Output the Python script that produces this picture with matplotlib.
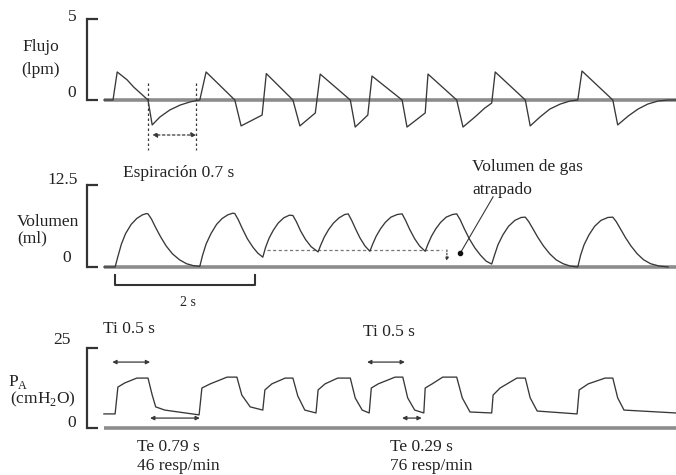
import matplotlib
matplotlib.use("Agg")
import matplotlib.pyplot as plt

plt.rcParams['font.family'] = ['Liberation Serif', 'DejaVu Serif']

# ---------------- data (time in s, values in chart units) ----------------
flow_t = [-0.13, 0.0, 0.06, 0.20, 0.30, 0.50, 0.56, 0.67, 0.81, 0.96, 1.10, 1.20, 1.24,
          1.33, 1.74, 1.83, 2.13, 2.19,
          2.57, 2.67, 2.89, 2.96,
          3.39, 3.46, 3.64, 3.70,
          4.13, 4.20, 4.46, 4.50,
          4.91, 5.00, 5.17, 5.31, 5.41, 5.46,
          5.89, 5.96, 6.10, 6.24, 6.39, 6.53, 6.64, 6.70,
          7.14, 7.21, 7.36, 7.50, 7.64, 7.79, 7.93, 8.04]
flow_v = [0.0, 0.0, 1.73, 1.25, 0.78, 0.0, -1.54, -1.05, -0.62, -0.31, -0.12, -0.03, 0.0,
          1.73, 0.0, -1.60, -0.93, 1.63,
          0.0, -1.60, -0.80, 1.60,
          0.0, -1.67, -0.93, 1.48,
          0.0, -1.67, -0.80, 1.60,
          0.0, -1.67, -1.05, -0.50, -0.19, 1.73,
          0.0, -1.60, -1.05, -0.56, -0.25, -0.06, 0.0, 1.79,
          0.0, -1.54, -0.99, -0.56, -0.25, -0.06, 0.0, 0.0]

vol_t = [-0.13, 0.03, 0.07, 0.12, 0.18, 0.26, 0.34, 0.42, 0.48, 0.50, 0.55, 0.61, 0.68,
         0.76, 0.85, 0.95, 1.05, 1.15, 1.24,
         1.28, 1.33, 1.40, 1.48, 1.56, 1.64, 1.71, 1.74, 1.79, 1.85, 1.92, 2.00, 2.07, 2.14,
         2.18, 2.23, 2.29, 2.36, 2.44, 2.52, 2.57, 2.62, 2.68, 2.75, 2.83, 2.93,
         2.97, 3.02, 3.08, 3.15, 3.23, 3.31, 3.36, 3.41, 3.47, 3.53, 3.60, 3.67,
         3.71, 3.76, 3.82, 3.89, 3.97, 4.06, 4.13, 4.18, 4.24, 4.31, 4.38, 4.46,
         4.50, 4.55, 4.61, 4.68, 4.76, 4.85, 4.91, 4.96, 5.02, 5.09, 5.17, 5.25, 5.33, 5.41,
         5.45, 5.50, 5.57, 5.65, 5.74, 5.83, 5.89, 5.94, 6.00, 6.07, 6.15, 6.24, 6.33,
         6.43, 6.53, 6.64,
         6.68, 6.73, 6.80, 6.88, 6.97, 7.07, 7.14, 7.19, 7.25, 7.32, 7.40, 7.49, 7.58,
         7.68, 7.80, 7.93]
vol_v = [0.0, 0.0, 1.6, 3.5, 5.1, 6.5, 7.4, 7.95, 8.15, 8.1, 7.3, 6.0, 4.6,
         3.2, 2.0, 1.1, 0.5, 0.2, 0.1,
         1.8, 3.5, 5.1, 6.5, 7.4, 7.95, 8.2, 8.15, 7.2, 5.8, 4.3, 3.0, 2.1, 1.5,
         3.0, 4.4, 5.6, 6.7, 7.5, 7.9, 7.85, 6.9, 5.5, 4.2, 3.1, 2.3,
         3.4, 4.6, 5.7, 6.7, 7.5, 8.0, 8.1, 7.1, 5.7, 4.4, 3.2, 2.4,
         3.5, 4.7, 5.8, 6.8, 7.6, 8.0, 8.1, 7.1, 5.7, 4.3, 3.2, 2.4,
         3.5, 4.7, 5.8, 6.8, 7.6, 8.0, 8.1, 7.2, 5.8, 4.3, 2.9, 1.8, 0.9, 0.45,
         1.8, 3.4, 4.9, 6.2, 7.1, 7.55, 7.6, 6.9, 5.8, 4.5, 3.2, 2.0, 1.1,
         0.5, 0.15, 0.0,
         1.8, 3.4, 4.9, 6.2, 7.1, 7.55, 7.6, 6.9, 5.8, 4.5, 3.2, 2.0, 1.1,
         0.5, 0.15, 0.0]

pres_t = [-0.13, 0.03, 0.07, 0.17, 0.34, 0.50, 0.56, 0.61, 0.74, 1.23,
          1.27, 1.39, 1.63, 1.77, 1.84, 1.96, 2.14,
          2.17, 2.27, 2.46, 2.57, 2.64, 2.74, 2.90,
          2.93, 3.03, 3.21, 3.39, 3.46, 3.56, 3.66,
          3.69, 3.79, 4.03, 4.14, 4.21, 4.31, 4.44,
          4.46, 4.56, 4.71, 4.91, 4.99, 5.10, 5.41,
          5.43, 5.53, 5.77, 5.89, 5.96, 6.06, 6.63,
          6.66, 6.79, 7.03, 7.14, 7.21, 7.30, 8.04]
pres_v = [4.4, 4.4, 12.8, 14.1, 15.6, 15.6, 10.3, 6.6, 5.6, 4.1,
          12.5, 13.8, 15.9, 15.9, 10.3, 6.6, 5.6,
          11.9, 13.8, 15.6, 15.6, 10.0, 5.6, 4.7,
          11.9, 13.8, 15.6, 15.6, 9.4, 5.6, 4.7,
          12.5, 13.8, 15.9, 15.9, 9.4, 5.6, 4.7,
          12.5, 13.8, 15.9, 15.9, 9.4, 5.0, 4.7,
          10.3, 12.5, 15.6, 15.6, 9.4, 5.3, 4.4,
          11.9, 13.8, 15.6, 15.6, 9.4, 5.6, 4.7]

panel_max = [5, 12.5, 25]
panel_tick_labels = [["0", "5"], ["0", "12.5"], ["0", "25"]]

# ---------------- layout helpers ----------------
W, H = 676, 475
fig = plt.figure(figsize=(W / 100, H / 100), dpi=100)

X0 = 87        # px of bracket
XT0 = 113      # px where t=0
PXS = 70.0     # px per second
xlim = ((X0 - XT0) / PXS, (W - XT0) / PXS)

boxes = [(19, 100), (185, 267), (348, 428)]  # top, bottom pixel of bracket
TRACE = '#383838'
BASE = '#8c8c8c'
AX = '#333333'
FS = 12.5

axes = []
for (top, bot), ymax in zip(boxes, panel_max):
    ax = fig.add_axes([X0 / W, 1 - bot / H, (W - X0) / W, (bot - top) / H])
    ax.set_xlim(*xlim)
    ax.set_ylim(0, ymax)
    ax.patch.set_alpha(0)
    for s in ['top', 'right', 'bottom']:
        ax.spines[s].set_visible(False)
    ax.spines['left'].set_color(AX)
    ax.spines['left'].set_linewidth(1.6)
    ax.set_xticks([])
    ax.set_yticks([0, ymax])
    ax.tick_params(axis='y', direction='in', length=8, width=1.6, color=AX,
                   labelleft=False)
    ax.plot([-0.13, xlim[1]], [0, 0], color=BASE, lw=2.6, solid_capstyle='butt',
            clip_on=False, zorder=1)
    axes.append(ax)

ax1, ax2, ax3 = axes
ax1.plot(flow_t, flow_v, color=TRACE, lw=0.95, clip_on=False, zorder=3)
ax2.plot(vol_t, vol_v, color=TRACE, lw=0.95, clip_on=False, zorder=3)
ax3.plot(pres_t, pres_v, color=TRACE, lw=0.95, clip_on=False, zorder=3)


def ftext(x, y, s, ha='center', va='center', fs=FS):
    fig.text(x / W, 1 - y / H, s, ha=ha, va=va, fontsize=fs, color='#222222')


# axis labels / tick labels
ftext(72, 17, panel_tick_labels[0][1])
ftext(72, 93, panel_tick_labels[0][0])
ftext(41, 47, "Flujo")
ftext(40, 70, "(lpm)")

ftext(63, 180, panel_tick_labels[1][1])
ftext(67, 258, panel_tick_labels[1][0])
ftext(17, 222, "Volumen", ha='left')
ftext(17, 238, "(ml)", ha='left')

ftext(62, 340, panel_tick_labels[2][1])
ftext(72, 423, panel_tick_labels[2][0])
ftext(8, 382, r"P$_\mathregular{A}$", ha='left')
ftext(10, 399, r"(cmH$_\mathregular{2}$O)", ha='left')

# ---------------- panel 1 annotations ----------------
for tx in [0.50, 1.19]:
    ax1.plot([tx, tx], [1.05, -3.1], color=TRACE, lw=0.9, ls=(0, (2, 2)), clip_on=False)
ax1.annotate('', xy=(0.56, -2.16), xytext=(1.19, -2.16),
             arrowprops=dict(arrowstyle='<|-|>', color=TRACE, lw=0.9, ls=(0, (2, 2)),
                             mutation_scale=7, shrinkA=0, shrinkB=0),
             annotation_clip=False)
ftext(123, 173, "Espiración 0.7 s", ha='left')

# ---------------- panel 2 annotations ----------------
ax2.plot([2.2, 4.7], [2.6, 2.6], color='#777777', lw=0.9, ls=(0, (2.5, 2)), clip_on=False)
ax2.annotate('', xy=(4.77, 0.9), xytext=(4.77, 2.6),
             arrowprops=dict(arrowstyle='-|>', color=TRACE, lw=0.8, ls=(0, (1.5, 1.5)),
                             mutation_scale=5, shrinkA=0, shrinkB=0),
             annotation_clip=False)
ax2.plot([5.43, 4.96], [10.7, 2.1], color=TRACE, lw=0.8, clip_on=False)
ax2.plot([4.96], [2.1], 'o', color='#111111', ms=3, clip_on=False)
ftext(472, 167, "Volumen de gas", ha='left')
ftext(472, 190, "atrapado", ha='left')

# 2 s scale bar
ax2.plot([0.03, 0.03, 2.03, 2.03], [-1.22, -2.74, -2.74, -1.22], color=AX, lw=1.5,
         clip_on=False)
ftext(188, 302, "2 s", fs=10)

# ---------------- panel 3 annotations ----------------
def darrow(ax, x0, x1, y):
    ax.annotate('', xy=(x0, y), xytext=(x1, y),
                arrowprops=dict(arrowstyle='<|-|>', color=TRACE, lw=0.9,
                                mutation_scale=6, shrinkA=0, shrinkB=0),
                annotation_clip=False)

darrow(ax3, -0.01, 0.53, 20.6)
darrow(ax3, 0.53, 1.24, 3.1)
darrow(ax3, 3.63, 4.17, 20.6)
darrow(ax3, 4.13, 4.41, 3.1)

ftext(103, 329, "Ti 0.5 s", ha='left')
ftext(363, 332, "Ti 0.5 s", ha='left')
ftext(137, 447, "Te 0.79 s", ha='left')
ftext(137, 466, "46 resp/min", ha='left')
ftext(390, 447, "Te 0.29 s", ha='left')
ftext(390, 466, "76 resp/min", ha='left')

fig.savefig("out.png", dpi=100, facecolor='white')
